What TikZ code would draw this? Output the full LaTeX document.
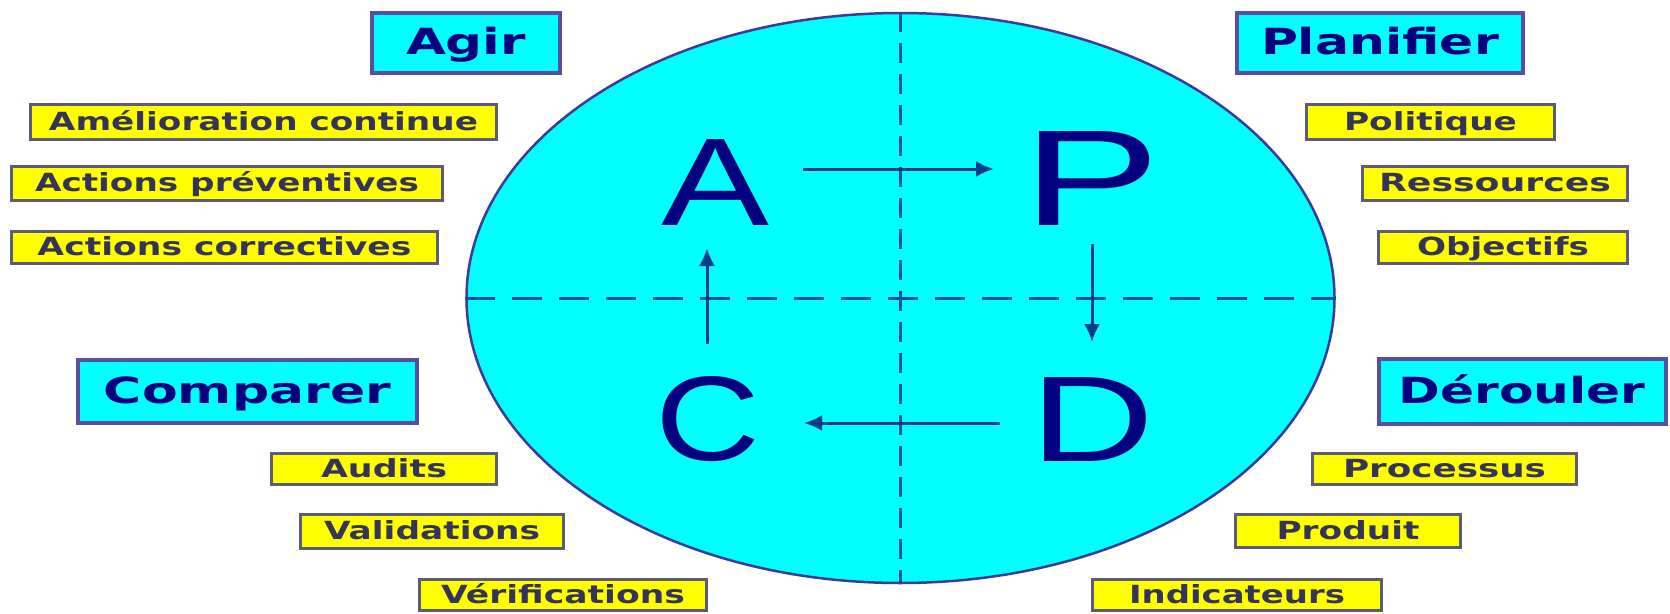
\documentclass[tikz,border=0pt]{standalone}
\usepackage{fontspec}
\setmainfont{DejaVu Sans}
\newfontfamily\letterfont{Liberation Sans}
\usetikzlibrary{shapes.geometric,arrows.meta}
\definecolor{cyanf}{HTML}{00FFFF}
\definecolor{yelf}{HTML}{FFFF00}
\definecolor{navyt}{HTML}{000080}
\definecolor{boxline}{HTML}{5A4EA0}
\definecolor{yelline}{HTML}{5C5C78}
\definecolor{yeltext}{HTML}{34345A}
\definecolor{dashc}{HTML}{0A50A0}
\definecolor{ellline}{HTML}{3C3C98}
\definecolor{arrc}{HTML}{0A3C8C}
\newcommand{\fitw}[2]{\resizebox{#1}{\height}{#2}}
\tikzset{
 headbox/.style={draw=boxline, line width=4pt, fill=cyanf, text=navyt, font=\fontsize{36}{40}\selectfont\bfseries, inner sep=0pt, text height=26pt, text depth=3pt},
 itembox/.style={draw=yelline, line width=3pt, fill=yelf, text=yeltext, font=\fontsize{25}{30}\selectfont\bfseries, inner sep=0pt, text height=18pt, text depth=2pt},
 bigletter/.style={text=navyt, inner sep=0pt, font=\letterfont\fontsize{120}{120}\selectfont},
 arr/.style={draw=arrc, line width=3pt, -{Latex[length=18pt,width=16pt]}},
 dashh/.style={draw=dashc, line width=3pt, dash pattern=on 30pt off 17pt},
 dashv/.style={draw=dashc, line width=3pt, dash pattern=on 20pt off 11pt},
}
\begin{document}
\begin{tikzpicture}[x=1pt,y=-1pt]
\useasboundingbox[fill=white] (0,0) rectangle (1670,613);
% ellipse
\node[ellipse, draw=ellline, line width=2.5pt, fill=cyanf, minimum width=868pt, minimum height=570pt, inner sep=0pt] (ell) at (900.5,298) {};
\draw[dashv] (ell.north) -- (ell.south);
\draw[dashh] (ell.west) -- (ell.east);
% letters
\node[bigletter] (A) at (715,182) {\resizebox{108pt}{86pt}{A}};
\node[bigletter] (P) at (1091,178) {\resizebox{138pt}{94pt}{P}};
\node[bigletter] (C) at (707.5,419) {\resizebox{105pt}{84pt}{C}};
\node[bigletter] (D) at (1092,419) {\resizebox{124pt}{84pt}{D}};
% arrows
\coordinate (ap1) at (803,169);
\coordinate (ap2) at (994,169);
\coordinate (pd1) at (1092,244);
\coordinate (pd2) at (1092,342);
\coordinate (dc1) at (1000,423);
\coordinate (dc2) at (804,423);
\coordinate (ca1) at (707,344);
\coordinate (ca2) at (707,248);
\draw[arr] (ap1) -- (ap2);
\draw[arr] (pd1) -- (pd2);
\draw[arr] (dc1) -- (dc2);
\draw[arr] (ca1) -- (ca2);
% head boxes
\node[headbox, minimum width=188pt, minimum height=60pt] (agir) at (466,43) {\fitw{120pt}{Agir}};
\node[headbox, minimum width=286pt, minimum height=60pt] (plan) at (1380,43) {\fitw{238pt}{Planifier}};
\node[headbox, minimum width=339pt, minimum height=63pt] (comp) at (247.5,391.5) {\fitw{287pt}{Comparer}};
\node[headbox, minimum width=287pt, minimum height=65pt] (der) at (1522,391.5) {\fitw{247pt}{Dérouler}};
% item boxes
\node[itembox, minimum width=466pt, minimum height=35pt] (amel) at (263.5,122) {\fitw{429pt}{Amélioration continue}};
\node[itembox, minimum width=431pt, minimum height=34pt] (prev) at (227,183.5) {\fitw{384pt}{Actions préventives}};
\node[itembox, minimum width=426pt, minimum height=32pt] (corr) at (224.5,247.5) {\fitw{374pt}{Actions correctives}};
\node[itembox, minimum width=248pt, minimum height=35pt] (poli) at (1430.5,122) {\fitw{173pt}{Politique}};
\node[itembox, minimum width=265pt, minimum height=34pt] (ress) at (1495,183.5) {\fitw{232pt}{Ressources}};
\node[itembox, minimum width=249pt, minimum height=32pt] (obj) at (1503,247.5) {\fitw{172pt}{Objectifs}};
\node[itembox, minimum width=225pt, minimum height=31pt] (aud) at (384,469) {\fitw{126pt}{Audits}};
\node[itembox, minimum width=263pt, minimum height=34pt] (val) at (432,531.5) {\fitw{216pt}{Validations}};
\node[itembox, minimum width=287pt, minimum height=31pt] (ver) at (563,595) {\fitw{244pt}{Vérifications}};
\node[itembox, minimum width=264pt, minimum height=31pt] (proc) at (1444.5,469) {\fitw{203pt}{Processus}};
\node[itembox, minimum width=225pt, minimum height=33pt] (prod) at (1348,531) {\fitw{143pt}{Produit}};
\node[itembox, minimum width=289pt, minimum height=31pt] (ind) at (1237,595) {\fitw{216pt}{Indicateurs}};
\end{tikzpicture}
\end{document}
